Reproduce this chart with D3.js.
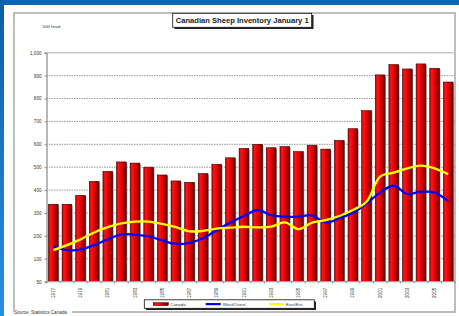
<!DOCTYPE html>
<html>
<head>
<meta charset="utf-8">
<script src="https://cdn.jsdelivr.net/npm/d3@7"></script>
<style>
  html, body { margin: 0; padding: 0; background: #fff; }
  svg { display: block; }
  text { font-family: Arial, "Liberation Sans", sans-serif; }
</style>
</head>
<body>
<script>
// data ('000 head)
var years = d3.range(1977, 2007);
var canada = [338, 338, 377, 438, 482, 523, 518, 500, 466, 440, 434, 472, 513, 541, 582,
              600, 585, 590, 568, 596, 579, 617, 668, 747, 903, 948, 929, 951, 932, 872];
var west = [153, 138, 140, 160, 185, 207, 205, 198, 180, 165, 170, 190, 225, 258, 287,
            313, 291, 284, 284, 290, 258, 277, 301, 342, 389, 419, 383, 393, 389, 352];
var east = [138, 160, 185, 215, 238, 255, 262, 262, 252, 238, 220, 222, 232, 236, 240,
            237, 240, 259, 230, 258, 269, 287, 313, 349, 459, 476, 495, 507, 495, 469];
var yTicks = [0, 100, 200, 300, 400, 500, 600, 700, 800, 900, 1000];
var yTickLabels = ["50", "100", "200", "300", "400", "500", "600", "700", "800", "900", "1,000"];
var xTickYears = d3.range(1977, 2007, 2);
var seriesNames = ["Canada", "West/Ouest", "East/Est"];

var W = 459, H = 316;
var svg = d3.select("body").append("svg").attr("width", W).attr("height", H);
var defs = svg.append("defs");

var side = defs.append("linearGradient").attr("id", "side").attr("x1", 0).attr("x2", 0).attr("y1", 0).attr("y2", 1);
side.append("stop").attr("offset", "0%").attr("stop-color", "#0b5ea8");
side.append("stop").attr("offset", "100%").attr("stop-color", "#2a8ee0");

var barG = defs.append("linearGradient").attr("id", "barg").attr("x1", 0).attr("x2", 1).attr("y1", 0).attr("y2", 0);
barG.append("stop").attr("offset", "0%").attr("stop-color", "#b00000");
barG.append("stop").attr("offset", "20%").attr("stop-color", "#ff1414");
barG.append("stop").attr("offset", "55%").attr("stop-color", "#e00000");
barG.append("stop").attr("offset", "100%").attr("stop-color", "#6a0000");

// frame
svg.append("rect").attr("width", W).attr("height", H).attr("fill", "#fff");
svg.append("rect").attr("x", 0).attr("y", 0).attr("width", W).attr("height", 5).attr("fill", "#0866b0");
svg.append("rect").attr("x", 0).attr("y", 0).attr("width", 4).attr("height", H).attr("fill", "url(#side)");
svg.append("rect").attr("x", 14).attr("y", 13).attr("width", 441).attr("height", 299)
  .attr("fill", "none").attr("stroke", "#a8a8a8").attr("stroke-width", 1.5);

var x0 = 46.5, x1 = 455, yTop = 52.7, yBot = 281.7;
var x = d3.scaleBand().domain(years).range([x0, x1]).paddingInner(0.29).paddingOuter(0.145);
var y = d3.scaleLinear().domain([0, 1000]).range([yBot, yTop]);

// gridlines
svg.append("g").selectAll("line").data(yTicks.filter(function(d){ return d > 0; })).enter().append("line")
  .attr("x1", x0).attr("x2", x1)
  .attr("y1", function(d){ return y(d); }).attr("y2", function(d){ return y(d); })
  .attr("stroke", function(d){ return d === 1000 ? "#c8c8c8" : "#8a8a8a"; })
  .attr("stroke-width", function(d){ return d === 1000 ? 1.5 : 0.9; })
  .attr("stroke-dasharray", function(d){ return d === 1000 ? null : "1.5,1"; });

// bars
svg.append("g").selectAll("rect").data(canada).enter().append("rect")
  .attr("x", function(d, i){ return x(years[i]) + 1; })
  .attr("y", function(d){ return y(d) + 1; })
  .attr("width", x.bandwidth())
  .attr("height", function(d){ return yBot - y(d) - 1; })
  .attr("fill", "#9a9a9a");
svg.append("g").selectAll("rect").data(canada).enter().append("rect")
  .attr("x", function(d, i){ return x(years[i]); })
  .attr("y", function(d){ return y(d); })
  .attr("width", x.bandwidth())
  .attr("height", function(d){ return yBot - y(d); })
  .attr("fill", "url(#barg)").attr("stroke", "#3a0000").attr("stroke-width", 0.6);

// lines
var line = function(vals){
  return d3.line()
    .x(function(d, i){ return x(years[i]) + x.bandwidth() / 2; })
    .y(function(d){ return y(d); })
    .curve(d3.curveCatmullRom.alpha(0.5))(vals);
};
svg.append("path").attr("d", line(west)).attr("fill", "none").attr("stroke", "#0000ff").attr("stroke-width", 2.3);
svg.append("path").attr("d", line(east)).attr("fill", "none").attr("stroke", "#ffff00").attr("stroke-width", 2.3);

// axes
var yAxis = d3.axisLeft(y).tickValues(yTicks).tickSize(2).tickPadding(3)
  .tickFormat(function(d, i){ return yTickLabels[i]; });
var gy = svg.append("g").attr("transform", "translate(" + x0 + ",0)").call(yAxis);
gy.select(".domain").attr("stroke", "#a0a0a0").attr("stroke-width", 1.5);
gy.selectAll(".tick line").attr("stroke", "#888");
gy.selectAll("text").attr("font-size", 4.6).attr("fill", "#333");

svg.append("line").attr("x1", x0).attr("x2", x1).attr("y1", yBot).attr("y2", yBot)
  .attr("stroke", "#a0a0a0").attr("stroke-width", 1.2);
svg.append("g").selectAll("line").data(years.concat([2007])).enter().append("line")
  .attr("x1", function(d){ return d === 2007 ? x1 : x(d) - x.step() * x.paddingInner() / 2; })
  .attr("x2", function(d){ return d === 2007 ? x1 : x(d) - x.step() * x.paddingInner() / 2; })
  .attr("y1", yBot).attr("y2", yBot + 2).attr("stroke", "#888").attr("stroke-width", 0.7);
svg.append("g").selectAll("text").data(xTickYears).enter().append("text")
  .attr("transform", function(d){
    return "translate(" + (x(d) + x.bandwidth() / 2 + 1.6) + "," + (yBot + 6) + ") rotate(-90)";
  })
  .attr("text-anchor", "end").attr("font-size", 4.6).attr("fill", "#333")
  .text(function(d){ return d; });

// unit label
svg.append("text").attr("x", 42).attr("y", 28).attr("font-size", 4.2).attr("fill", "#333").text("'000 head");

// title
svg.append("rect").attr("x", 174.5).attr("y", 15).attr("width", 139).attr("height", 14).attr("fill", "#222");
svg.append("rect").attr("x", 172.7).attr("y", 13.3).attr("width", 139).attr("height", 14)
  .attr("fill", "#fff").attr("stroke", "#111").attr("stroke-width", 0.8);
svg.append("text").attr("x", 242.2).attr("y", 23.2).attr("text-anchor", "middle")
  .attr("font-size", 7.6).attr("font-weight", "bold").attr("fill", "#222")
  .text("Canadian Sheep Inventory January 1");

// legend
svg.append("rect").attr("x", 146).attr("y", 301.5).attr("width", 170).attr("height", 8.5).attr("fill", "#222");
svg.append("rect").attr("x", 144.3).attr("y", 299.8).attr("width", 170).attr("height", 8.5)
  .attr("fill", "#fff").attr("stroke", "#111").attr("stroke-width", 0.8);
var legX = [153.3, 205.7, 269];
var legColor = ["url(#barg)", "#0000ff", "#ffff00"];
seriesNames.forEach(function(name, i){
  if (i === 0) {
    svg.append("rect").attr("x", legX[i]).attr("y", 302.6).attr("width", 15).attr("height", 3)
      .attr("fill", legColor[i]).attr("stroke", "#3a0000").attr("stroke-width", 0.5);
  } else {
    svg.append("line").attr("x1", legX[i]).attr("x2", legX[i] + 15).attr("y1", 304.1).attr("y2", 304.1)
      .attr("stroke", legColor[i]).attr("stroke-width", 2.2);
  }
  svg.append("text").attr("x", legX[i] + 17).attr("y", 305.6).attr("font-size", 4.4).attr("fill", "#333").text(name);
});

// source
svg.append("rect").attr("x", 14).attr("y", 309.5).attr("width", 58).attr("height", 5).attr("fill", "#fff");
svg.append("text").attr("x", 14).attr("y", 313.6).attr("font-size", 4.6).attr("fill", "#333").text("Source: Statistics Canada");
</script>
</body>
</html>
